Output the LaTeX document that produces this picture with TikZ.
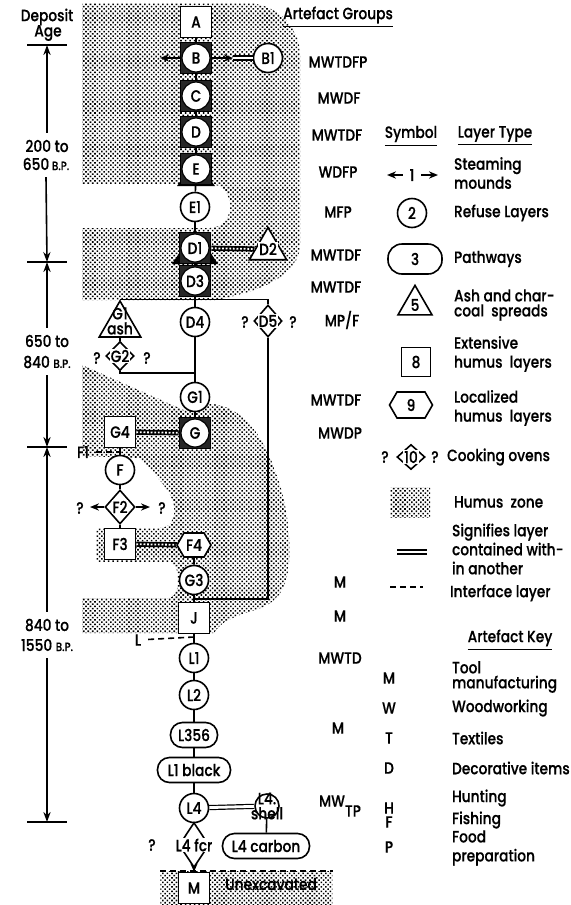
\documentclass[tikz,border=0pt]{standalone}
\usepackage{fontspec}
\IfFontExistsTF{Poppins Medium}
  {\setmainfont{Poppins Medium}[FakeStretch=0.84, FakeBold=0.4]}
  {\setmainfont{Poppins}[FakeStretch=0.84, FakeBold=0.6]}
\usetikzlibrary{arrows.meta,positioning,shapes.geometric,shapes.symbols,patterns.meta}

\tikzdeclarepattern{
  name=humusdots,
  type=uncolored,
  bottom left={(-0.8pt,-0.8pt)},
  top right={(0.8pt,0.8pt)},
  tile size={(1.6pt,1.6pt)},
  tile transformation={rotate=45},
  code={\fill (0pt,0pt) circle (0.56pt);}
}

\newcommand{\bpmark}{{\fontsize{6}{7}\selectfont B.P.}}

\begin{document}
\begin{tikzpicture}[
    x=0.5pt, y=-0.5pt,
    font=\fontsize{8.2}{9.5}\selectfont,
    refuse/.style={draw, thick, circle, fill=white, minimum size=14.5pt, inner sep=0pt},
    humusbox/.style={draw, thick, fill=white, minimum size=15.5pt, inner sep=0pt},
    stacked/.style={draw, thick, fill=black!85, minimum size=15.5pt, inner sep=0pt,
        path picture={\draw[semithick, fill=white] (path picture bounding box.center) circle (7pt);}},
    pathway/.style={draw, thick, fill=white, rounded corners=6pt, minimum height=12.5pt, inner sep=1pt},
    ash/.style={draw, thick, fill=white, regular polygon, regular polygon sides=3, inner sep=0pt},
    localhumus/.style={draw, thick, fill=white, signal, signal to=west and east, signal pointer angle=120, inner sep=0pt},
    oven/.style={draw, thick, fill=white, diamond, inner sep=0pt},
    labeltag/.style={fill=white, inner sep=0.4pt},
    humus/.style={pattern=humusdots, pattern color=black},
    link/.style={thick},
    steam/.style={thick, -{Stealth[length=4.5pt, width=3.6pt]}},
    within/.style={semithick, double, double distance=1.4pt},
    ladder/.style={line width=2.6pt, postaction={draw=white, line width=0.9pt, dash pattern=on 0.9pt off 0.9pt}},
    interface/.style={thick, dash pattern=on 3pt off 2pt},
    agearrow/.style={thick, -{Stealth[length=5pt, width=3.6pt]}},
    agetick/.style={thick},
    keytext/.style={anchor=west, align=left}
]
\useasboundingbox (0,0) rectangle (571,905);

% humus zones
\path[humus] (82,3) -- (246,3) .. controls (272,3) and (300,22) .. (300,56) -- (300,245)
    .. controls (300,275) and (260,292) .. (215,300) -- (82,300) -- (82,228) -- (210,228)
    .. controls (222,228) and (230,218) .. (230,206) .. controls (230,194) and (222,184) .. (210,184)
    -- (82,184) -- cycle;
\path[humus] (82,365) -- (186,411) .. controls (205,396) and (238,405) .. (256,432)
    .. controls (280,468) and (292,520) .. (289,562) .. controls (287,592) and (275,604) .. (255,610)
    .. controls (235,616) and (220,622) .. (214,633) -- (82,633) -- (82,598) -- (168,598)
    .. controls (175,598) and (178,590) .. (178,580) .. controls (178,570) and (175,562) .. (168,562)
    -- (96,562) -- (96,528) -- (160,528) .. controls (170,528) and (176,518) .. (174,506)
    .. controls (172,490) and (150,470) .. (140,458) -- (82,456) -- cycle;
\node[humus, minimum width=86pt, minimum height=17pt, inner sep=0pt, anchor=north west] (uz) at (160,871) {};
\draw[interface] (uz.north west) -- (uz.north east);
\node (unexc) at (271,884) {Unexcavated};

% ash spreads under layers
\fill (177,186) -- (215,186) -- (196,160) -- cycle;
\fill (172,264) -- (218,264) -- (195,229) -- cycle;

% layer sequence
\node[humusbox] (A) at (196,22) {A};
\node[stacked] (B) at (196,58) {B};
\node[refuse] (B1) at (268,58) {B1};
\node[stacked] (C) at (196,96) {C};
\node[stacked] (D) at (196,132) {D};
\node[stacked] (E) at (196,169) {E};
\node[refuse] (E1) at (195,207) {E1};
\node[stacked] (D1) at (195,248) {D1};
\node[ash, minimum size=21.5pt, label={[labeltag]center:D2}] (D2) at (268,249) {};
\node[stacked] (D3) at (195,281) {D3};
\node[refuse] (D4) at (195,322) {D4};
\node[oven, minimum width=14pt, minimum height=16pt, label={[labeltag]center:D5}] (D5) at (268,321) {};
\node (q5l) at (245,322) {?};
\node (q5r) at (293,322) {?};
\node[ash, minimum size=24pt, label={[align=center, yshift=2pt]center:G1\\[-2pt]ash}] (G1a) at (120,325) {};
\node[oven, minimum width=14pt, minimum height=14.5pt, label={[labeltag]center:G2}] (G2) at (120,356) {};
\node (q2l) at (97,358) {?};
\node (q2r) at (147,358) {?};
\node[refuse] (G1) at (195,397) {G1};
\node[stacked] (G) at (195,433) {G};
\node[humusbox] (G4) at (120,432) {G4};
\node (F1) at (83,452) {F1};
\node[refuse] (F) at (120,470) {F};
\node[oven, minimum width=15pt, minimum height=17pt, label={[labeltag]center:F2}] (F2) at (120,507) {};
\node (q3l) at (80,508) {?};
\node (q3r) at (162,508) {?};
\node[humusbox] (F3) at (120,544) {F3};
\node[localhumus, minimum width=17pt, minimum height=12pt] (F4) at (194,545) {F4};
\node[refuse] (G3) at (194,580) {G3};
\node[humusbox] (J) at (194,618) {J};
\node (Lt) at (138,640) {L};
\node[refuse] (L1) at (194,658) {L1};
\node[refuse] (L2) at (194,695) {L2};
\node[pathway, minimum width=23.5pt] (L356) at (194,735) {L356};
\node[pathway, minimum width=36.5pt] (L1b) at (194,770) {L1 black};
\node[refuse] (L4) at (194,808) {L4};
\node[refuse, minimum size=12pt, label={[align=center, inner sep=0pt]center:L4.\\[-2pt]shell}] (L4s) at (267,806) {};
\node[pathway, minimum width=43.5pt] (L4c) at (266,846) {L4 carbon};
\node[oven, minimum width=15pt, minimum height=22.5pt, label={[labeltag]center:L4 fcr}] (L4f) at (194,845) {};
\node (q4) at (152,845) {?};
\node[humusbox] (M) at (194,888) {M};

% connectors
\coordinate (Bl) at (160,58);
\coordinate (Br) at (233,58);
\coordinate (g2in) at (195,373);
\coordinate (f1in) at (120,452);
\coordinate (F2l) at (90,507);
\coordinate (F2r) at (150,507);
\coordinate (jtop) at (194,599);
\coordinate (lin) at (194,637);
\draw[link] (A) -- (B);
\draw[steam] (B) -- (Bl);
\draw[steam] (B) -- (Br);
\draw[within] (Br) -- (B1);
\draw[link] (B) -- (C);
\draw[link] (C) -- (D);
\draw[link] (D) -- (E);
\draw[link] (E) -- (E1);
\draw[link] (E1) -- (D1);
\draw[ladder] (D1) -- (D2.west);
\draw[link] (D1) -- (D3);
\draw[link] (D3) -- (D4);
\draw[link] (G1a.corner 1) -| (D5.north);
\draw[link] (G1a.south) -- (G2.north);
\draw[link] (G2.south) |- (g2in);
\draw[link] (D4) -- (G1);
\draw[link] (G1) -- (G);
\draw[ladder] (G4) -- (G);
\draw[link] (G4) -- (F);
\draw[interface] (F1) -- (f1in);
\draw[link] (F) -- (F2);
\draw[steam] (F2.west) -- (F2l);
\draw[steam] (F2.east) -- (F2r);
\draw[link] (F2) -- (F3);
\draw[ladder] (F3) -- (F4);
\draw[link] (F4) -- (G3);
\draw[link] (G3) -- (J);
\draw[link] (D5.south) |- (jtop);
\draw[link] (J) -- (L1);
\draw[interface] (Lt) -- (lin);
\draw[link] (L1) -- (L2);
\draw[link] (L2) -- (L356);
\draw[link] (L356) -- (L1b);
\draw[link] (L1b) -- (L4);
\draw[within] (L4) -- (L4s);
\draw[link] (L4s) -- (L4c);
\draw[link] (L4) -- (L4f);
\draw[link, -{Stealth[length=4pt, width=3.5pt]}] (L4f) -- (M);

% deposit age axis
\node (dep) at (47,17) {Deposit};
\node (age) at (48,33) {Age};
\coordinate (t0) at (47,45);
\coordinate (t1) at (47,262);
\coordinate (t2) at (47,447);
\coordinate (t3) at (47,822);
\draw[agetick] (t0) ++(-20,0) -- ++(40,0);
\draw[agetick] (t1) ++(-20,0) -- ++(40,0);
\draw[agetick] (t2) ++(-20,0) -- ++(40,0);
\draw[agetick] (t3) ++(-20,0) -- ++(40,0);
\node (r1a) at (47,146) {200 to};
\node (r1b) at (46,164) {650\,\bpmark};
\node (r2a) at (47,341) {650 to};
\node (r2b) at (47,362) {840 \bpmark};
\node (r3a) at (47,625) {840 to};
\node (r3b) at (47,645) {1550 \bpmark};
\draw[agearrow] (r1a.north) -- (t0);
\draw[agearrow] (r1b.south) -- (t1);
\draw[agearrow] (r2a.north) -- (t1);
\draw[agearrow] (r2b.south) -- (t2);
\draw[agearrow] (r3a.north) -- (t2);
\draw[agearrow] (r3b.south) -- (t3);

% artefact groups
\node (grp) at (338,17) {\underline{Artefact Groups}};
\node (ag1) at (338,62) {MWTDFP};
\node (ag2) at (339,98) {MWDF};
\node (ag3) at (337,135) {MWTDF};
\node (ag4) at (338,172) {WDFP};
\node (ag5) at (338,212) {MFP};
\node (ag6) at (336,255) {MWTDF};
\node (ag7) at (336,287) {MWTDF};
\node (ag8) at (342,320) {MP/F};
\node (ag9) at (336,400) {MWTDF};
\node (ag10) at (340,433) {MWDP};
\node (ag11) at (340,582) {M};
\node (ag12) at (340,616) {M};
\node (ag13) at (340,658) {MWTD};
\node (ag14) at (338,728) {M};
\node (ag15) at (340,806) {MW\raisebox{-5pt}{TP}};

% symbol key
\node (symh) at (411,136) {\underline{Symbol}};
\node (typeh) at (495,136) {\underline{Layer Type}};
\node (k1) at (412,175) {1};
\coordinate (k1l) at (387,175);
\coordinate (k1r) at (438,175);
\draw[steam] (k1) -- (k1l);
\draw[steam] (k1) -- (k1r);
\node[keytext] (k1t) at (447,173) {Steaming\\mounds};
\node[refuse] (k2) at (412,213) {2};
\node[keytext] (k2t) at (447,213) {Refuse Layers};
\node[pathway, minimum width=27pt, minimum height=15pt, rounded corners=7pt] (k3) at (415,259) {3};
\node[keytext] (k3t) at (447,259) {Pathways};
\node[ash, minimum size=19.6pt, label={center:5}] (k5) at (415,305) {};
\node[keytext] (k5t) at (447,305) {Ash and char-\\[-2pt]coal\ \ spreads};
\node[humusbox, minimum size=14.5pt] (k8) at (416,362) {8};
\node[keytext] (k8t) at (447,354) {Extensive\\humus\ \ layers};
\node[localhumus, minimum width=21.5pt, minimum height=13pt] (k9) at (411,405) {9};
\node[keytext] (k9t) at (447,408) {Localized\\humus\ \ layers};
\node[oven, minimum width=14pt, minimum height=12.5pt, label={[labeltag]center:10}] (k10) at (411,457) {};
\node (q6l) at (385,457) {?};
\node (q6r) at (435,457) {?};
\node[keytext] (k10t) at (440,457) {Cooking ovens};
\node[humus, minimum width=20pt, minimum height=15pt] (kh) at (410,502) {};
\node[keytext] (kht) at (447,502) {Humus\ \ zone};
\coordinate (kwa) at (397,552);
\coordinate (kwb) at (427,552);
\draw[within] (kwa) -- (kwb);
\node[keytext] (kwt) at (445,549) {Signifies layer\\contained with-\\in another};
\coordinate (kia) at (390,587);
\coordinate (kib) at (423,587);
\draw[interface] (kia) -- (kib);
\node[keytext] (kit) at (443,593) {Interface layer};

% artefact key
\node (akh) at (510,640) {\underline{Artefact Key}};
\node (kM) at (389,678) {M};
\node[keytext] (kMt) at (445,677) {Tool\\[-2pt]manufacturing};
\node (kW) at (389,708) {W};
\node[keytext] (kWt) at (445,708) {Woodworking};
\node (kT) at (389,738) {T};
\node[keytext] (kTt) at (445,738) {Textiles};
\node (kD) at (389,768) {D};
\node[keytext] (kDt) at (445,768) {Decorative items};
\node (kH) at (389,808) {H};
\node[keytext] (kHt) at (445,798) {Hunting};
\node (kF) at (389,822) {F};
\node[keytext] (kFt) at (445,820) {Fishing};
\node (kP) at (389,847) {P};
\node[keytext] (kPt) at (445,848) {Food\\preparation};
\end{tikzpicture}
\end{document}
